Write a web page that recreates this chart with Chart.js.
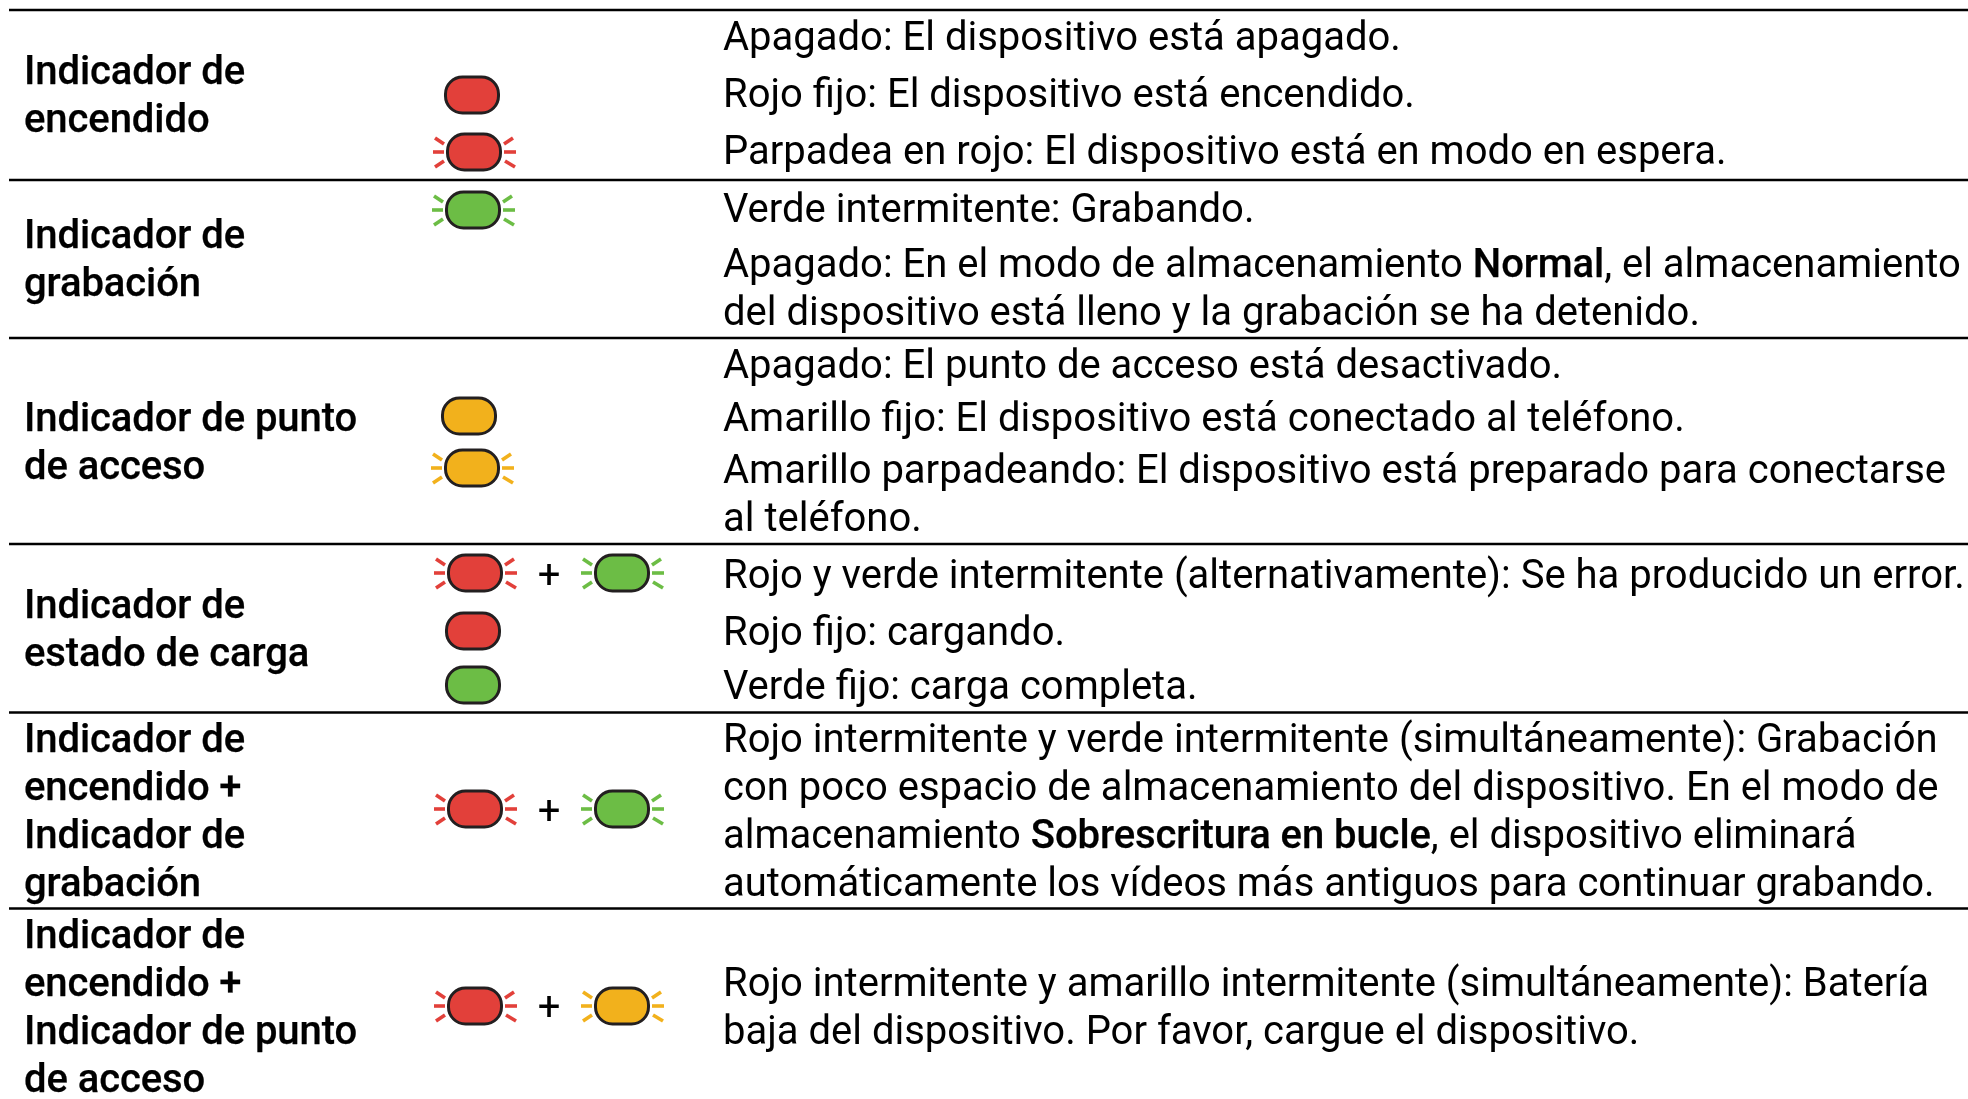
<!DOCTYPE html>
<html lang="es">
<head>
<meta charset="utf-8">
<title>Indicadores</title>
<script src="https://cdn.jsdelivr.net/npm/chart.js@4"></script>
<style>
    html, body { margin: 0; padding: 0; background: #fff; }
    canvas { display: block; }
</style>
</head>
<body>
<canvas id="ledTable" width="1968" height="1099"></canvas>
<script>
// row rules, on the y axis
const ruleY = [10, 180, 338, 544, 712.5, 908.5];
const ruleStart = 9;
const ruleEnd = 1968;

// first column
const nameLines = [
    'Indicador de', 'encendido',
    'Indicador de', 'grabación',
    'Indicador de punto', 'de acceso',
    'Indicador de', 'estado de carga',
    'Indicador de', 'encendido +', 'Indicador de', 'grabación',
    'Indicador de', 'encendido +', 'Indicador de punto', 'de acceso'
];
const nameY = [84, 132, 248, 296, 431, 479, 618, 666, 752, 800, 848, 896, 948, 996, 1044, 1092];
const nameX = 24;

// last column, **x** is a bold run
const descLines = [
    'Apagado: El dispositivo está apagado.',
    'Rojo fijo: El dispositivo está encendido.',
    'Parpadea en rojo: El dispositivo está en modo en espera.',
    'Verde intermitente: Grabando.',
    'Apagado: En el modo de almacenamiento **Normal**, el almacenamiento',
    'del dispositivo está lleno y la grabación se ha detenido.',
    'Apagado: El punto de acceso está desactivado.',
    'Amarillo fijo: El dispositivo está conectado al teléfono.',
    'Amarillo parpadeando: El dispositivo está preparado para conectarse',
    'al teléfono.',
    'Rojo y verde intermitente (alternativamente): Se ha producido un error.',
    'Rojo fijo: cargando.',
    'Verde fijo: carga completa.',
    'Rojo intermitente y verde intermitente (simultáneamente): Grabación',
    'con poco espacio de almacenamiento del dispositivo. En el modo de',
    'almacenamiento **Sobrescritura en bucle**, el dispositivo eliminará',
    'automáticamente los vídeos más antiguos para continuar grabando.',
    'Rojo intermitente y amarillo intermitente (simultáneamente): Batería',
    'baja del dispositivo. Por favor, cargue el dispositivo.'
];
const descY = [50, 107, 164, 222, 277, 325, 378, 431, 483, 531, 588, 645, 699, 752, 800, 848, 896, 996, 1044];
const descX = 723;

// LEDs, middle column
const steadyRed = [{ x: 472, y: 95 }, { x: 473, y: 631 }];
const blinkRed = [{ x: 474, y: 152 }, { x: 475, y: 573 }, { x: 475, y: 809 }, { x: 475, y: 1006 }];
const steadyGreen = [{ x: 473, y: 685 }];
const blinkGreen = [{ x: 473, y: 210 }, { x: 622, y: 573 }, { x: 622, y: 809 }];
const steadyAmber = [{ x: 469, y: 416 }];
const blinkAmber = [{ x: 472, y: 468 }, { x: 622, y: 1006 }];

// the + between two LEDs
const plusX = [549, 549, 549];
const plusY = [588, 824, 1020];

const RED = '#e2403a';
const GREEN = '#6cbd45';
const AMBER = '#f2b11c';
const OUTLINE = '#231f20';
const FONT = 'Roboto';
const TEXT_SIZE = 40;
const BOLD_STROKE = 0.25;

function makeLed(fill, blinking) {
    const c = document.createElement('canvas');
    c.width = 90;
    c.height = 50;
    const g = c.getContext('2d');
    const cx = 45, cy = 25;
    if (blinking) {
        g.strokeStyle = fill;
        g.lineWidth = 3.6;
        const rays = [[-41, 0, -30, 0], [-39, -14, -30, -8], [-39, 15, -30, 9],
                      [30, 0, 42, 0], [30, -8, 39, -14], [31, 9, 41, 15]];
        rays.forEach(r => {
            g.beginPath();
            g.moveTo(cx + r[0], cy + r[1]);
            g.lineTo(cx + r[2], cy + r[3]);
            g.stroke();
        });
    }
    g.beginPath();
    g.roundRect(cx - 26.5, cy - 18, 53, 36, 17);
    g.fillStyle = fill;
    g.fill();
    g.strokeStyle = OUTLINE;
    g.lineWidth = 3;
    g.stroke();
    return c;
}

function ledDataset(points, fill, blinking) {
    return {
        data: points,
        showLine: false,
        pointStyle: makeLed(fill, blinking),
        pointRadius: 30
    };
}

function ruleDatasets() {
    return ruleY.map(y => ({
        data: [{ x: ruleStart, y: y }, { x: ruleEnd, y: y }],
        showLine: true,
        borderColor: '#000',
        borderWidth: 2.4,
        pointRadius: 0
    }));
}

// draws a line, switching to the heavy face at the ** marks
function drawRuns(ctx, line, x, y, allBold) {
    line.split('**').forEach((run, i) => {
        const bold = allBold || i % 2 === 1;
        ctx.font = `${bold ? 500 : 400} ${TEXT_SIZE}px ${FONT}`;
        ctx.letterSpacing = bold ? '-0.08px' : '0px';
        ctx.fillText(run, x, y);
        if (bold) {
            ctx.strokeText(run, x, y);
        }
        x += ctx.measureText(run).width;
    });
}

const tableText = {
    id: 'tableText',
    afterDatasetsDraw(chart) {
        const { ctx, scales } = chart;
        const sx = scales.x, sy = scales.y;
        ctx.save();
        ctx.fillStyle = '#000';
        ctx.strokeStyle = '#000';
        ctx.lineWidth = BOLD_STROKE;
        ctx.lineJoin = 'round';
        ctx.textBaseline = 'alphabetic';
        ctx.textAlign = 'left';
        ctx.fontKerning = 'normal';
        nameLines.forEach((line, i) => {
            drawRuns(ctx, line, sx.getPixelForValue(nameX), sy.getPixelForValue(nameY[i]), true);
        });
        descLines.forEach((line, i) => {
            drawRuns(ctx, line, sx.getPixelForValue(descX), sy.getPixelForValue(descY[i]), false);
        });
        ctx.textAlign = 'center';
        plusX.forEach((x, i) => {
            drawRuns(ctx, '+', sx.getPixelForValue(x), sy.getPixelForValue(plusY[i]), false);
        });
        ctx.restore();
    }
};

function initChart() {
    const ctx = document.getElementById('ledTable').getContext('2d');
    new Chart(ctx, {
        type: 'scatter',
        data: {
            datasets: [
                ...ruleDatasets(),
                ledDataset(steadyRed, RED, false),
                ledDataset(blinkRed, RED, true),
                ledDataset(steadyGreen, GREEN, false),
                ledDataset(blinkGreen, GREEN, true),
                ledDataset(steadyAmber, AMBER, false),
                ledDataset(blinkAmber, AMBER, true)
            ]
        },
        options: {
            responsive: false,
            animation: false,
            layout: { padding: 0, autoPadding: false },
            scales: {
                x: { type: 'linear', min: 0, max: 1968, display: false },
                y: { type: 'linear', min: 0, max: 1099, reverse: true, display: false }
            },
            plugins: {
                legend: { display: false },
                tooltip: { enabled: false }
            }
        },
        plugins: [tableText]
    });
}

document.addEventListener('DOMContentLoaded', () => {
    document.fonts.load(`400 ${TEXT_SIZE}px ${FONT}`).finally(initChart);
});
</script>
</body>
</html>
